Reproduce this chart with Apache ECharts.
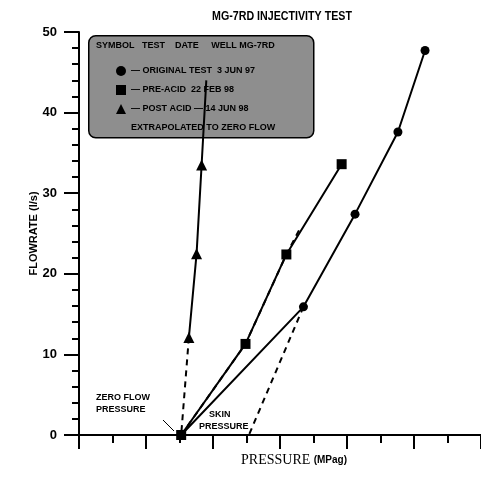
<!DOCTYPE html>
<html>
<head>
<meta charset="utf-8">
<script src="https://cdn.jsdelivr.net/npm/echarts@6/dist/echarts.min.js"></script>
<style>html,body{margin:0;padding:0;background:#fff}#c{width:481px;height:492px}</style>
</head>
<body>
<div id="c"></div>
<script>
// ---- data (pressure in axis-tick units, flowrate in l/s) ----
const origX = [3.05, 6.70, 8.24, 9.52, 10.33];
const origY = [0, 15.9, 27.4, 37.6, 47.7];
const preX = [3.05, 4.97, 6.19, 7.84];
const preY = [0, 11.3, 22.4, 33.6];
const postX = [3.28, 3.51, 3.66, 3.80];
const postY = [12.1, 22.5, 33.5, 44.0];
// extrapolated (dashed) segments
const extTriX = [3.28, 3.05];
const extTriY = [12.1, 0];
const extPreX = [3.05, 4.97, 6.19, 6.58];
const extPreY = [0, 11.3, 22.4, 25.5];
const extOrigX = [6.70, 5.02];
const extOrigY = [15.9, -0.5];
const yTicks = [0, 10, 20, 30, 40, 50];

const names = {
  orig: '— ORIGINAL TEST  3 JUN 97',
  pre: '— PRE-ACID  22 FEB 98',
  post: '— POST ACID — 14 JUN 98',
  ext: 'EXTRAPOLATED TO ZERO FLOW'
};

function pairs(xs, ys) { return xs.map((x, i) => [x, ys[i]]); }
const extData = pairs(extTriX, extTriY).concat([['-', '-']], pairs(extPreX, extPreY), [['-', '-']], pairs(extOrigX, extOrigY));
const postData = pairs(postX, postY).map((p, i) => i === postX.length - 1 ? { value: p, symbol: 'none' } : p);

const chart = echarts.init(document.getElementById('c'), null, { renderer: 'canvas' });
const bold = { fontFamily: 'Liberation Sans, Arial, sans-serif', fontWeight: 'bold', color: '#000' };

chart.setOption({
  animation: false,
  backgroundColor: '#fff',
  grid: { left: 79, right: -4, top: 32, bottom: 57 },
  xAxis: [{
    type: 'value', min: 0, max: 12, interval: 2,
    name: '{a|PRESSURE} {b|(MPag)}', nameLocation: 'middle', nameGap: 18,
    nameTextStyle: { padding: [0, 0, 0, 28], rich: {
      a: { fontFamily: 'Liberation Serif, Times New Roman, serif', fontSize: 14, color: '#000' },
      b: { fontFamily: 'Liberation Sans, Arial, sans-serif', fontSize: 10, fontWeight: 'bold', color: '#000' }
    }},
    axisLine: { onZero: false, lineStyle: { color: '#000', width: 2 } },
    axisTick: { show: true, inside: false, length: 14, lineStyle: { color: '#000', width: 2 } },
    minorTick: { show: true, splitNumber: 2, length: 8, lineStyle: { color: '#000', width: 2 } },
    axisLabel: { show: false },
    splitLine: { show: false }
  }, {
    type: 'value', position: 'top', min: 0, max: 12,
    axisLine: { show: true, lineStyle: { color: '#000', width: 2 } },
    axisTick: { show: false }, axisLabel: { show: false }, splitLine: { show: false }
  }],
  yAxis: {
    type: 'value', min: yTicks[0], max: yTicks[yTicks.length - 1], interval: 10,
    name: 'FLOWRATE (l/s)', nameLocation: 'middle', nameGap: 40, nameMoveOverlap: false,
    nameTextStyle: Object.assign({ fontSize: 11 }, bold),
    axisLine: { lineStyle: { color: '#000', width: 2 } },
    axisTick: { length: 15, lineStyle: { color: '#000', width: 2 } },
    minorTick: { show: true, splitNumber: 5, length: 7, lineStyle: { color: '#000', width: 2 } },
    axisLabel: Object.assign({ fontSize: 13, margin: 22 }, bold),
    splitLine: { show: false }
  },
  legend: {
    orient: 'vertical', left: 111, top: 61,
    itemWidth: 10, itemHeight: 10, itemGap: 9,
    textStyle: Object.assign({ fontSize: 9, lineHeight: 10 }, bold),
    data: [
      { name: names.orig, icon: 'circle' },
      { name: names.pre, icon: 'rect' },
      { name: names.post, icon: 'triangle' },
      { name: names.ext, icon: 'rect', itemStyle: { opacity: 0 } }
    ],
    selectedMode: false
  },
  graphic: [
    { type: 'text', x: 282, y: 16, scaleX: 0.82, z: 1,
      style: { text: 'MG-7RD INJECTIVITY TEST', font: 'bold 13px Liberation Sans, Arial', fill: '#000', align: 'center', verticalAlign: 'middle' } },
    { type: 'rect', left: 88, top: 35, z: 0, shape: { width: 225, height: 102, r: 7 },
      style: { fill: '#8e8e8e', stroke: '#000', lineWidth: 1.5 } },
    { type: 'text', left: 96, top: 41, z: 1,
      style: { text: 'SYMBOL   TEST    DATE     WELL MG-7RD', font: 'bold 9px Liberation Sans, Arial', fill: '#000' } },
    { type: 'text', left: 96, top: 392, z: 1,
      style: { text: 'ZERO FLOW\nPRESSURE', font: 'bold 9px Liberation Sans, Arial', lineHeight: 12, fill: '#000' } },
    { type: 'text', left: 199, top: 409, z: 1,
      style: { text: '    SKIN\nPRESSURE', font: 'bold 9px Liberation Sans, Arial', lineHeight: 12, fill: '#000' } },
    { type: 'line', z: 1, shape: { x1: 163, y1: 420, x2: 174, y2: 431 }, style: { stroke: '#000', lineWidth: 1 } }
  ],
  series: [
    { name: names.ext, type: 'line', data: extData, showSymbol: false, clip: false, z: 3,
      lineStyle: { color: '#000', width: 2, type: [6, 5] }, itemStyle: { color: '#000' } },
    { name: names.orig, type: 'line', data: pairs(origX, origY), symbol: 'circle', symbolSize: 9, z: 4,
      lineStyle: { color: '#000', width: 2 }, itemStyle: { color: '#000' } },
    { name: names.pre, type: 'line', data: pairs(preX, preY), symbol: 'rect', symbolSize: 10, z: 5,
      lineStyle: { color: '#000', width: 2 }, itemStyle: { color: '#000' } },
    { name: names.post, type: 'line', data: postData, symbol: 'triangle', symbolSize: 11, z: 5,
      lineStyle: { color: '#000', width: 2 }, itemStyle: { color: '#000' } }
  ]
});
</script>
</body>
</html>
